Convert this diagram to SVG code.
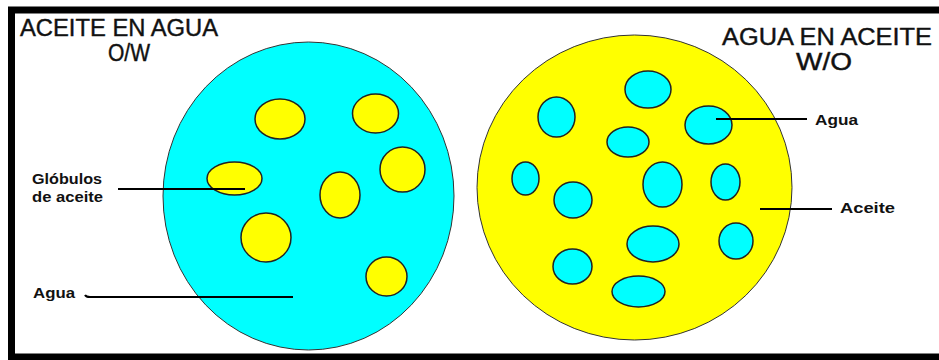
<svg xmlns="http://www.w3.org/2000/svg" width="939" height="360" viewBox="0 0 939 360">
<style>
.title{font-family:"Liberation Sans",Arial,sans-serif;font-size:23px;fill:#111;stroke:#111;stroke-width:0.4}
.lbl{font-family:"Liberation Sans",Arial,sans-serif;font-size:15px;font-weight:bold;fill:#111}
.water{fill:#00FFFF;stroke:#222;stroke-width:1.5}
.oil{fill:#FFFF00;stroke:#222;stroke-width:1.5}
.big{stroke:#333;stroke-width:1}
.lead{fill:none;stroke:#000;stroke-width:2}
</style>
<rect x="0" y="0" width="939" height="360" fill="#fff"/>
<rect x="11.5" y="10" width="940" height="347" fill="none" stroke="#000" stroke-width="7"/>
<g id="ow">
<ellipse class="water big" cx="308.5" cy="196" rx="145.5" ry="154"/>
<ellipse class="oil" cx="280" cy="119" rx="25" ry="20"/>
<ellipse class="oil" cx="375.5" cy="113.5" rx="23" ry="19.5"/>
<ellipse class="oil" cx="402.5" cy="169.5" rx="22.5" ry="22.5"/>
<ellipse class="oil" cx="234.5" cy="178.5" rx="27.5" ry="16.5"/>
<ellipse class="oil" cx="340" cy="195" rx="20" ry="23"/>
<ellipse class="oil" cx="266" cy="237.5" rx="25" ry="24.5"/>
<ellipse class="oil" cx="386.5" cy="276.5" rx="20.5" ry="19.5"/>
</g>
<g id="wo">
<ellipse class="oil big" cx="634.5" cy="187.5" rx="157.5" ry="152.5"/>
<ellipse class="water" cx="648" cy="89.5" rx="23" ry="18.5"/>
<ellipse class="water" cx="556.5" cy="117" rx="18.5" ry="20"/>
<ellipse class="water" cx="708.5" cy="125" rx="23.5" ry="19"/>
<ellipse class="water" cx="628" cy="142" rx="21" ry="15"/>
<ellipse class="water" cx="525.5" cy="178.5" rx="13.5" ry="16.5"/>
<ellipse class="water" cx="662.5" cy="184.5" rx="19.5" ry="22.5"/>
<ellipse class="water" cx="725.5" cy="182" rx="14.5" ry="18"/>
<ellipse class="water" cx="573" cy="200" rx="19" ry="18"/>
<ellipse class="water" cx="653" cy="244" rx="26" ry="18"/>
<ellipse class="water" cx="736" cy="241" rx="17" ry="18"/>
<ellipse class="water" cx="572.5" cy="266.5" rx="19.5" ry="17.5"/>
<ellipse class="water" cx="638.5" cy="291.5" rx="26.5" ry="15.5"/>
</g>
<g id="titles">
<text class="title" x="20" y="36" textLength="198" lengthAdjust="spacingAndGlyphs">ACEITE EN AGUA</text>
<text class="title" x="108" y="61" textLength="42" lengthAdjust="spacingAndGlyphs">O/W</text>
<text class="title" x="722" y="45" textLength="210" lengthAdjust="spacingAndGlyphs">AGUA EN ACEITE</text>
<text class="title" x="796" y="70" textLength="56" lengthAdjust="spacingAndGlyphs">W/O</text>
</g>
<g id="labels">
<text class="lbl" x="32" y="184" textLength="70" lengthAdjust="spacingAndGlyphs">Glóbulos</text>
<text class="lbl" x="32" y="202" textLength="71" lengthAdjust="spacingAndGlyphs">de aceite</text>
<text class="lbl" x="33" y="298" textLength="42" lengthAdjust="spacingAndGlyphs">Agua</text>
<text class="lbl" x="815" y="125" textLength="43" lengthAdjust="spacingAndGlyphs">Agua</text>
<text class="lbl" x="840" y="213" textLength="55" lengthAdjust="spacingAndGlyphs">Aceite</text>
</g>
<g id="connectors">
<path class="lead" d="M118,189 L245,189"/>
<path class="lead" d="M85,295 Q86,297 90,297 L293,297"/>
<path class="lead" d="M716,119 L807,119"/>
<path class="lead" d="M760,209 L832,209"/>
</g>
</svg>
